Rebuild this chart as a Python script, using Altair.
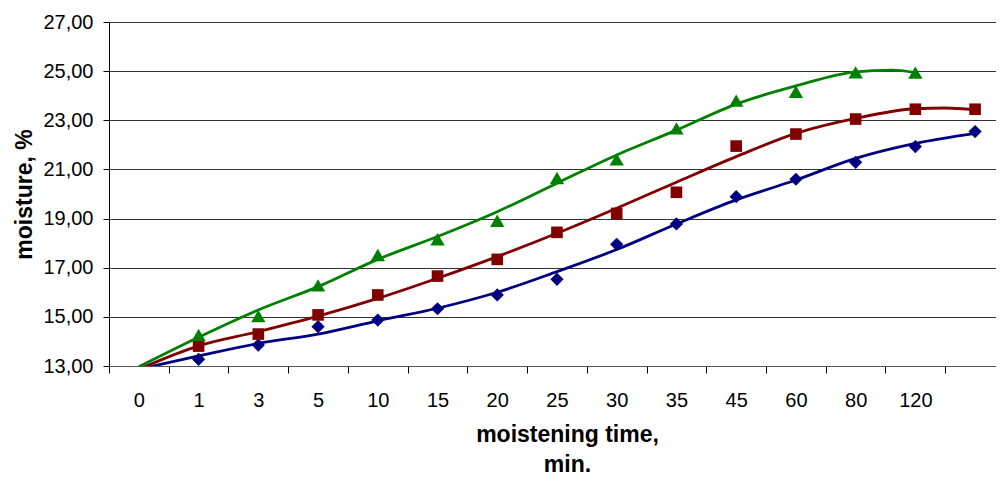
import altair as alt
import pandas as pd

# x categories (moistening time, min.)
categories = ["0", "1", "3", "5", "10", "15", "20", "25", "30", "35", "45", "60", "80", "120"]

# measured points (category index positions)
blue_x = [1, 2, 3, 4, 5, 6, 7, 8, 9, 10, 11, 12, 13, 14]
blue_pts = [13.27, 13.85, 14.60, 14.87, 15.33, 15.89, 16.53, 17.95, 18.78, 19.89, 20.60, 21.29, 21.93, 22.54]
red_x = [1, 2, 3, 4, 5, 6, 7, 8, 9, 10, 11, 12, 13, 14]
red_pts = [13.81, 14.30, 15.08, 15.89, 16.66, 17.34, 18.44, 19.21, 20.07, 21.95, 22.44, 23.05, 23.45, 23.45]
green_x = [1, 2, 3, 4, 5, 6, 7, 8, 9, 10, 11, 12, 13]
green_pts = [14.26, 15.03, 16.28, 17.52, 18.16, 18.91, 20.65, 21.41, 22.67, 23.80, 24.16, 24.95, 24.94]

# trend lines
blue_trend_x = [0, 1, 2, 3, 4, 5, 6, 7, 8, 9, 10, 11, 12, 13, 14]
blue_trend = [12.87, 13.41, 13.92, 14.30, 14.84, 15.35, 16.00, 16.84, 17.74, 18.78, 19.76, 20.57, 21.45, 22.06, 22.47]
red_trend_x = [0, 1, 2, 3, 4, 5, 6, 7, 8, 9, 10, 11, 12, 13, 13.5, 14]
red_trend = [12.87, 13.82, 14.40, 15.03, 15.75, 16.57, 17.45, 18.40, 19.42, 20.48, 21.52, 22.47, 23.08, 23.47, 23.50, 23.42]
green_trend_x = [0, 1, 2, 3, 4, 5, 6, 7, 8, 9, 10, 11, 12, 12.6, 13]
green_trend = [12.97, 14.17, 15.28, 16.23, 17.34, 18.27, 19.28, 20.44, 21.59, 22.60, 23.66, 24.40, 24.97, 25.04, 24.94]

BLUE, RED, GREEN = "#000080", "#800000", "#008000"

y_ticks = [13, 15, 17, 19, 21, 23, 25, 27]

FONT = "Liberation Sans"
js_list = "[" + ",".join("'" + c + "'" for c in categories) + "]"
label_expr = ("(datum.value % 1 === 0 && datum.value >= 0 && datum.value < " + str(len(categories))
              + ") ? " + js_list + "[datum.value] : ''")
x_values = [i * 0.5 - 0.5 for i in range(30)]  # -0.5 .. 14.0

x_enc = alt.X(
    "idx:Q",
    scale=alt.Scale(domain=[-0.5, 14.35], nice=False, zero=False),
    axis=alt.Axis(
        values=x_values,
        labelExpr=label_expr,
        labelOverlap=False,
        labelFlush=False,
        grid=False,
        tickSize=7,
        tickColor="#000000",
        tickOpacity={"condition": {"test": "datum.value % 1 !== 0", "value": 1}, "value": 0},
        domainColor="#555555",
        labelPadding=17,
        labelFont=FONT,
        labelFontSize=20,
        labelColor="#000000",
        title=["moistening time,", "min."],
        titleFont=FONT,
        titleFontSize=23,
        titleFontWeight="bold",
        titleColor="#000000",
        titleLineHeight=30,
        titleBaseline="alphabetic",
        titleAlign="center",
        titleX=458,
        titleY=75,
    ),
)

y_enc = alt.Y(
    "value:Q",
    scale=alt.Scale(domain=[13, 27], nice=False, zero=False),
    axis=alt.Axis(
        values=y_ticks,
        labelExpr="replace(format(datum.value, '.2f'), '.', ',')",
        grid=True,
        gridColor="#333333",
        gridWidth=1,
        tickSize=6,
        tickColor="#000000",
        domainColor="#000000",
        labelPadding=10,
        labelFont=FONT,
        labelFontSize=20,
        labelColor="#000000",
        title="moisture, %",
        titleFont=FONT,
        titleFontSize=23,
        titleFontWeight="bold",
        titleColor="#000000",
        titleAngle=270,
        titleAlign="center",
        titleBaseline="alphabetic",
        titleX=-78,
        titleY=172,
    ),
)


def trend_layer(xs, ys, color):
    df = pd.DataFrame({"idx": xs, "value": ys})
    return alt.Chart(df).mark_line(
        strokeWidth=2.8, interpolate="monotone", clip=True, color=color
    ).encode(x=x_enc, y=y_enc)


def point_layer(xs, ys, color, shape, size):
    df = pd.DataFrame({"idx": xs, "value": ys})
    return alt.Chart(df).mark_point(
        filled=True, opacity=1, color=color, shape=shape, size=size
    ).encode(x=x_enc, y=y_enc)


chart = alt.layer(
    trend_layer(blue_trend_x, blue_trend, BLUE),
    trend_layer(red_trend_x, red_trend, RED),
    trend_layer(green_trend_x, green_trend, GREEN),
    point_layer(blue_x, blue_pts, BLUE, "diamond", 175),
    point_layer(red_x, red_pts, RED, "square", 135),
    point_layer(green_x, green_pts, GREEN, "triangle-up", 205),
).properties(
    width=887,
    height=344,
    autosize=alt.AutoSizeParams(type="none"),
    padding={"left": 101, "top": 14, "right": 0, "bottom": 114},
    background="#ffffff",
).configure_view(stroke=None)

chart.save("out.html", embed_options={"renderer": "svg", "actions": False})
